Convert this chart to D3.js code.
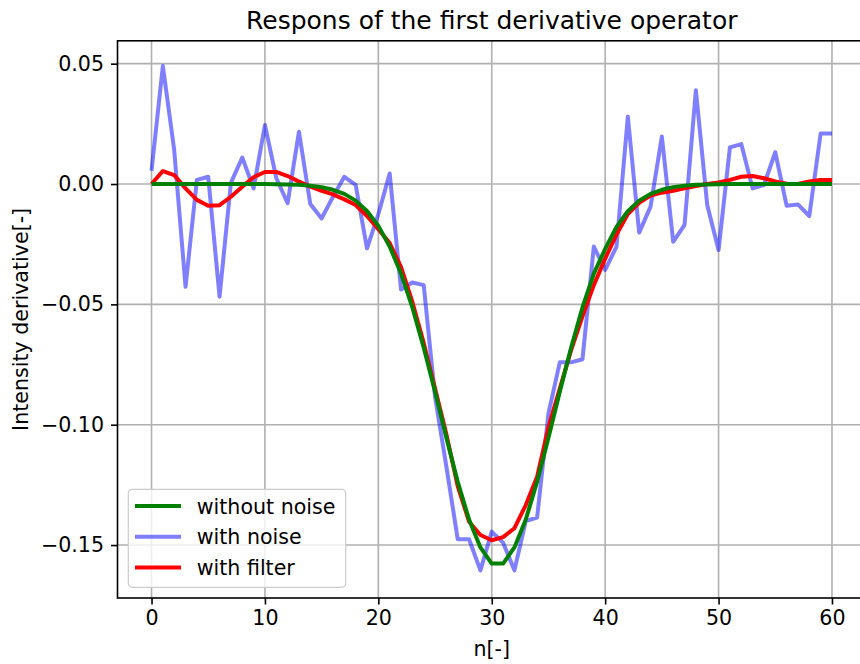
<!DOCTYPE html>
<html>
<head>
<meta charset="utf-8">
<script src="https://cdn.jsdelivr.net/npm/d3@7"></script>
<style>
	body { margin: 0; background: #fff; }
	text { font-family: 'DejaVu Sans', sans-serif; fill: #000; }
</style>
</head>
<body>
<svg id="chart" width="860" height="664"></svg>
<script>
// sample index n = 0..60
const samples = d3.range(61);

const withoutNoise = [
	0, 0, 0, 0, 0, 0, 0, 0, 0, 0,
	0, -0.0001, -0.0002, -0.0003, -0.0007, -0.0013, -0.0024, -0.0041, -0.0069, -0.0112,
	-0.0174, -0.026, -0.0372, -0.0513, -0.0679, -0.0863, -0.1054, -0.1237, -0.1394, -0.151,
	-0.1577, -0.1577, -0.151, -0.1394, -0.1237, -0.1054, -0.0863, -0.0679, -0.0513, -0.0372,
	-0.027, -0.0178, -0.0113, -0.0069, -0.0041, -0.0024, -0.0013, -0.0007, -0.0003, -0.0002,
	-0.0001, 0, 0, 0, 0, 0, 0, 0, 0, 0, 0
];

const withNoise = [
	0.0055, 0.049, 0.0141, -0.0427, 0.0017, 0.003, -0.0468, 0.0005, 0.011, -0.0018,
	0.0245, 0.0025, -0.008, 0.0217, -0.0083, -0.0143, -0.0053, 0.003, -0.0004, -0.0267,
	-0.0125, 0.0044, -0.0438, -0.0409, -0.042, -0.0884, -0.1174, -0.1476, -0.1476, -0.1605,
	-0.1444, -0.149, -0.1605, -0.140, -0.1386, -0.0953, -0.0741, -0.0741, -0.0728, -0.026,
	-0.0357, -0.026, 0.028, -0.0202, -0.0094, 0.0197, -0.024, -0.017, 0.039, -0.0087,
	-0.0274, 0.0152, 0.0166, -0.0018, -0.0004, 0.0132, -0.009, -0.0085, -0.0133, 0.021, 0.021
];

const withFilter = [
	0, 0.0054, 0.0037, -0.0018, -0.0066, -0.009, -0.0088, -0.0053, -0.0011, 0.0028,
	0.005, 0.005, 0.0033, 0.001, -0.0011, -0.0028, -0.0043, -0.0064, -0.0087, -0.0133,
	-0.0188, -0.0245, -0.0345, -0.049, -0.066, -0.085, -0.104, -0.1255, -0.1403, -0.1458,
	-0.148, -0.1467, -0.143, -0.1334, -0.1216, -0.101, -0.085, -0.069, -0.055, -0.042,
	-0.031, -0.021, -0.0125, -0.0078, -0.0048, -0.0036, -0.0028, -0.0018, -0.0008, 0,
	0.0006, 0.0017, 0.003, 0.0033, 0.0024, 0.0011, 0.0001, 0, 0.0011, 0.0017, 0.0017
];

const xTicks = [0, 10, 20, 30, 40, 50, 60];
const yTicks = [-0.15, -0.10, -0.05, 0.00, 0.05];

const series = [
	{ name: 'without noise', values: withoutNoise, color: '#008000', opacity: 1 },
	{ name: 'with noise', values: withNoise, color: '#0000ff', opacity: 0.5 },
	{ name: 'with filter', values: withFilter, color: '#ff0000', opacity: 1 }
];
// drawing order: noisy line underneath, exact curve on top
const drawOrder = ['with noise', 'with filter', 'without noise'];

const svg = d3.select('#chart');
const plot = { left: 117.5, right: 866, top: 40.8, bottom: 598 };
const fontSize = '20.6px';

const x = d3.scaleLinear().domain([-3, 63]).range([plot.left, plot.right]);
const y = d3.scaleLinear().domain([-0.172, 0.0595]).range([plot.bottom, plot.top]);

svg.append('defs')
	.append('clipPath')
	.attr('id', 'plotclip')
	.append('rect')
	.attr('x', plot.left)
	.attr('y', plot.top)
	.attr('width', plot.right - plot.left)
	.attr('height', plot.bottom - plot.top);

// grid
const grid = svg.append('g').attr('class', 'grid');
grid.selectAll('line.gx')
	.data(xTicks)
	.enter()
	.append('line')
	.attr('x1', (d) => x(d))
	.attr('x2', (d) => x(d))
	.attr('y1', plot.top)
	.attr('y2', plot.bottom)
	.attr('stroke', '#b0b0b0')
	.attr('stroke-width', 1.6);
grid.selectAll('line.gy')
	.data(yTicks)
	.enter()
	.append('line')
	.attr('x1', plot.left)
	.attr('x2', plot.right)
	.attr('y1', (d) => y(d))
	.attr('y2', (d) => y(d))
	.attr('stroke', '#b0b0b0')
	.attr('stroke-width', 1.6);

// lines
const line = (vals) => d3.line()
	.x((d) => x(d))
	.y((d) => y(vals[d]))(samples);

const byName = new Map(series.map((s) => [s.name, s]));
svg.append('g')
	.attr('clip-path', 'url(#plotclip)')
	.selectAll('path')
	.data(drawOrder.map((n) => byName.get(n)))
	.enter()
	.append('path')
	.attr('d', (s) => line(s.values))
	.attr('fill', 'none')
	.attr('stroke', (s) => s.color)
	.attr('stroke-opacity', (s) => s.opacity)
	.attr('stroke-width', 4)
	.attr('stroke-linejoin', 'round');

// axes
const xAxis = d3.axisBottom(x)
	.tickValues(xTicks)
	.tickFormat(d3.format('d'))
	.tickSizeInner(6.5)
	.tickSizeOuter(0)
	.tickPadding(6);
const yAxis = d3.axisLeft(y)
	.tickValues(yTicks)
	.tickFormat(d3.format('.2f'))
	.tickSizeInner(6.5)
	.tickSizeOuter(0)
	.tickPadding(7);

const gx = svg.append('g')
	.attr('transform', `translate(0,${plot.bottom})`)
	.call(xAxis);
const gy = svg.append('g')
	.attr('transform', `translate(${plot.left},0)`)
	.call(yAxis);

[gx, gy].forEach((g) => {
	g.select('.domain').remove();
	g.selectAll('.tick line').attr('stroke', '#000').attr('stroke-width', 1.6);
	g.selectAll('.tick text')
		.attr('fill', '#000')
		.style('font-family', "'DejaVu Sans', sans-serif")
		.style('font-size', fontSize);
});

// frame
svg.append('rect')
	.attr('x', plot.left)
	.attr('y', plot.top)
	.attr('width', plot.right - plot.left)
	.attr('height', plot.bottom - plot.top)
	.attr('fill', 'none')
	.attr('stroke', '#000')
	.attr('stroke-width', 1.6);

// labels
svg.append('text')
	.attr('x', (plot.left + plot.right) / 2)
	.attr('y', 29)
	.attr('text-anchor', 'middle')
	.style('font-size', '25px')
	.text('Respons of the first derivative operator');

svg.append('text')
	.attr('x', (plot.left + plot.right) / 2)
	.attr('y', 656)
	.attr('text-anchor', 'middle')
	.style('font-size', fontSize)
	.text('n[-]');

svg.append('text')
	.attr('transform', `translate(28,${(plot.top + plot.bottom) / 2}) rotate(-90)`)
	.attr('text-anchor', 'middle')
	.style('font-size', fontSize)
	.text('Intensity derivative[-]');

// legend
const legend = svg.append('g').attr('transform', 'translate(128.3,489.3)');
legend.append('rect')
	.attr('width', 217.4)
	.attr('height', 98)
	.attr('rx', 4)
	.attr('fill', '#fff')
	.attr('fill-opacity', 0.8)
	.attr('stroke', '#cccccc')
	.attr('stroke-width', 1.2);

const items = legend.selectAll('g.item')
	.data(series)
	.enter()
	.append('g')
	.attr('class', 'item')
	.attr('transform', (d, i) => `translate(0,${16.7 + i * 30.7})`);
items.append('line')
	.attr('x1', 6.7)
	.attr('x2', 52.7)
	.attr('stroke', (d) => d.color)
	.attr('stroke-opacity', (d) => d.opacity)
	.attr('stroke-width', 4);
items.append('text')
	.attr('x', 68.4)
	.attr('y', 7.5)
	.style('font-size', fontSize)
	.text((d) => d.name);
</script>
</body>
</html>
